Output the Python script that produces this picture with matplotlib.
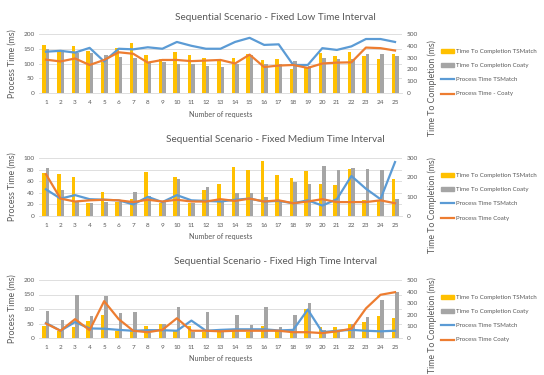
import matplotlib
matplotlib.use("Agg")
import matplotlib.pyplot as plt
from matplotlib.patches import Patch
from matplotlib.lines import Line2D
import numpy as np

plt.rcParams['font.family'] = ['Lato', 'DejaVu Sans']

requests = list(range(1, 26))

# ---- Panel 1: Fixed Low Time Interval ----
low_ttc_tsmatch = [408, 368, 395, 355, 262, 383, 420, 325, 292, 350, 318, 295, 275,
                   300, 330, 278, 287, 205, 213, 336, 316, 351, 310, 287, 330]
low_ttc_coaty = [375, 362, 338, 338, 320, 305, 300, 258, 262, 245, 242, 232, 218,
                 245, 325, 243, 243, 272, 228, 300, 292, 290, 330, 330, 310]
low_pt_tsmatch = [140, 143, 137, 153, 107, 150, 148, 155, 150, 173, 160, 150, 150,
                  173, 187, 163, 165, 95, 95, 152, 146, 158, 183, 183, 173]
low_pt_coaty = [113, 107, 117, 95, 112, 138, 133, 103, 112, 112, 108, 110, 112,
                100, 130, 88, 93, 95, 85, 100, 103, 104, 154, 152, 144]

# ---- Panel 2: Fixed Medium Time Interval ----
med_ttc_tsmatch = [222, 216, 201, 66, 126, 72, 87, 228, 69, 201, 66, 135, 165,
                   252, 240, 282, 212, 198, 233, 164, 159, 245, 84, 81, 193]
med_ttc_coaty = [248, 134, 73, 68, 73, 72, 122, 105, 73, 193, 68, 152, 73,
                 117, 117, 96, 72, 176, 167, 259, 240, 248, 245, 236, 86]
med_pt_tsmatch = [46, 30, 36, 29, 28, 27, 20, 33, 24, 36, 27, 26, 25,
                  28, 30, 25, 26, 22, 27, 18, 29, 69, 47, 29, 93]
med_pt_coaty = [72, 30, 25, 27, 28, 27, 24, 28, 25, 28, 25, 25, 29,
                26, 30, 25, 27, 22, 25, 29, 24, 24, 24, 27, 22]

# ---- Panel 3: Fixed High Time Interval ----
high_ttc_tsmatch = [105, 62, 92, 148, 200, 62, 58, 100, 122, 62, 100, 52, 52,
                    62, 52, 105, 68, 51, 254, 99, 99, 119, 141, 189, 175]
high_ttc_coaty = [234, 157, 372, 186, 363, 214, 228, 43, 122, 271, 52, 228, 52,
                  200, 114, 263, 99, 198, 305, 70, 51, 121, 184, 325, 395]
high_pt_tsmatch = [52, 25, 55, 33, 32, 28, 25, 27, 27, 25, 60, 25, 28,
                   30, 30, 30, 26, 28, 98, 20, 25, 28, 25, 23, 25]
high_pt_coaty = [50, 25, 65, 27, 127, 65, 25, 20, 28, 68, 25, 25, 23,
                 25, 25, 25, 25, 20, 20, 17, 23, 32, 102, 149, 158]

titles = ["Sequential Scenario - Fixed Low Time Interval",
          "Sequential Scenario - Fixed Medium Time Interval",
          "Sequential Scenario - Fixed High Time Interval"]
legend_labels = [
    ["Time To Completion TSMatch", "Time To Completion Coaty", "Process Time TSMatch", "Process Time - Coaty"],
    ["Time To Completion TSMatch", "Time To Completion Coaty", "Process Time TSMatch", "Process Time Coaty"],
    ["Time To Completion TSMatch", "Time To Completion Coaty", "Process Time TSMatch", "Process Time Coaty"],
]
left_ticks = [np.arange(0, 201, 50), np.arange(0, 101, 20), np.arange(0, 201, 50)]
right_ticks = [np.arange(0, 501, 100), np.arange(0, 301, 100), np.arange(0, 501, 100)]

panels = [
    (low_ttc_tsmatch, low_ttc_coaty, low_pt_tsmatch, low_pt_coaty),
    (med_ttc_tsmatch, med_ttc_coaty, med_pt_tsmatch, med_pt_coaty),
    (high_ttc_tsmatch, high_ttc_coaty, high_pt_tsmatch, high_pt_coaty),
]

YEL = "#FFC000"
GRY = "#A5A5A5"
BLU = "#5B9BD5"
ORG = "#ED7D31"
TXT = "#595959"

W, H = 544, 375
fig = plt.figure(figsize=(5.44, 3.75), dpi=100)
fig.patch.set_facecolor("white")

# pixel geometry (top, bottom) of each plot area
geo = [(34, 93), (158, 216), (280, 338)]
x0, x1 = 38.7, 402.3
title_y = [18, 140, 262]
legend_y = [55, 179, 301]
rlabel_center = [88, 205, 325]

x = np.arange(len(requests))
bw = 0.24

for i, (ttc_ts, ttc_co, pt_ts, pt_co) in enumerate(panels):
    top, bot = geo[i]
    rect = [x0 / W, 1 - bot / H, (x1 - x0) / W, (bot - top) / H]
    ax = fig.add_axes(rect)
    ax2 = ax.twinx()
    ax3 = fig.add_axes(rect, sharex=ax, sharey=ax)
    ax3.axis('off')

    ax.set_ylim(left_ticks[i][0], left_ticks[i][-1])
    ax.set_yticks(left_ticks[i])
    ax2.set_ylim(right_ticks[i][0], right_ticks[i][-1])
    ax2.set_yticks(right_ticks[i])
    ax.set_xlim(-0.5, len(requests) - 0.5)
    ax.set_xticks(x)
    ax.set_xticklabels([str(r) for r in requests])

    ax.grid(axis='y', color="#D9D9D9", linewidth=0.6)
    ax.set_axisbelow(True)
    for a in (ax, ax2):
        for s in a.spines.values():
            s.set_visible(False)
        a.tick_params(length=0, labelsize=4.6, colors=TXT, pad=3)
    ax.spines['bottom'].set_visible(True)
    ax.spines['bottom'].set_color("#D9D9D9")
    ax.spines['bottom'].set_linewidth(0.6)
    ax.tick_params(axis='x', pad=5)

    ax2.bar(x - bw / 2, ttc_ts, width=bw, color=YEL)
    ax2.bar(x + bw / 2, ttc_co, width=bw, color=GRY)
    ax3.plot(x, pt_ts, color=BLU, linewidth=1.6, solid_joinstyle='round')
    ax3.plot(x, pt_co, color=ORG, linewidth=1.6, solid_joinstyle='round')

    ax.set_xlabel("Number of requests", fontsize=5.2, color=TXT, labelpad=4)
    ax.set_ylabel("Process Time (ms)", fontsize=6.3, color=TXT, labelpad=5)

    fig.text(432 / W, 1 - rlabel_center[i] / H, "Time To Completion (ms)",
             rotation=90, ha='center', va='center', fontsize=6.3, color=TXT)
    fig.text(275 / W, 1 - title_y[i] / H, titles[i], ha='center', va='center',
             fontsize=7.2, color=TXT)

    handles = [Patch(color=YEL), Patch(color=GRY),
               Line2D([], [], color=BLU, linewidth=1.6),
               Line2D([], [], color=ORG, linewidth=1.6)]
    fig.legend(handles, legend_labels[i], loc='upper left',
               bbox_to_anchor=(441 / W, 1 - (legend_y[i] - 6) / H),
               frameon=False, fontsize=4.4, labelcolor=TXT,
               handlelength=2.2, handleheight=0.5, handletextpad=0.3,
               labelspacing=1.5, borderaxespad=0, borderpad=0)

fig.savefig("out.png", dpi=100, facecolor="white")
